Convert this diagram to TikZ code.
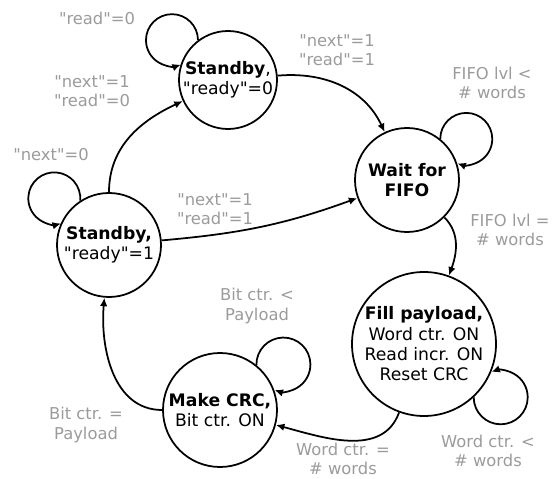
\documentclass[tikz,border=0pt]{standalone}
\usepackage{fontspec}
\setmainfont{DejaVu Sans}[Ligatures=TeXOff]
\usetikzlibrary{arrows.meta}
\definecolor{condgray}{RGB}{155,155,155}

\begin{document}
\begin{tikzpicture}[>={Latex[length=1.7mm,width=1.5mm]},line width=1pt,
  state/.style={circle,draw,align=center,inner sep=0pt,font=\fontsize{9.8}{11.6}\selectfont},
  cond/.style={align=center,text=condgray,font=\fontsize{9.3}{11}\selectfont}]
\useasboundingbox (0,0) rectangle (11.08,9.58);

\node[state,minimum size=1.96cm] (idle) at (4.56,7.98) {\textbf{Standby}, \\ "ready"=0};
\node[state,minimum size=2.08cm] (ready) at (2.18,4.68) {\textbf{Standby,} \\ "ready"=1};
\node[state,minimum size=2.08cm] (wait) at (8.14,5.98) {\textbf{Wait for} \\ \textbf{FIFO}};
\node[state,minimum size=2.88cm] (fill) at (8.48,2.70) {\textbf{Fill payload,} \\ Word ctr. ON \\ Read incr. ON \\ Reset CRC};
\node[state,minimum size=2.28cm] (crc) at (4.40,1.38) {\textbf{Make CRC,} \\ Bit ctr. ON};

% self loops
\draw[->] (idle.127.3) arc[start angle=0,end angle=290,radius=0.52cm];
\draw[->] (ready.123.3) arc[start angle=-5,end angle=285,radius=0.52cm];
\draw[->] (wait.51.7) arc[start angle=180,end angle=-110,radius=0.52cm];
\draw[->] (fill.-47.4) arc[start angle=180,end angle=470,radius=0.54cm];
\draw[->] (crc.51.8) arc[start angle=181,end angle=-109,radius=0.54cm];

% transitions
\draw[->] (ready) to[out=90,in=205] (idle);
\draw[->] (idle) to[out=5,in=115] (wait);
\draw[->] (ready) to[out=5,in=200] (wait);
\draw[->] (wait) to[out=-45,in=70] (fill);
\draw[->] (fill) to[out=250,in=-15] (crc);
\draw[->] (crc) to[out=180,in=265] (ready);

\node[cond] (c1) at (1.94,9.22) {"read"=0};
\node[cond] (c2) at (1.84,7.76) {"next"=1 \\ "read"=0};
\node[cond] (c3) at (1.02,6.48) {"next"=0};
\node[cond] (c4) at (4.30,5.40) {"next"=1 \\ "read"=1};
\node[cond] (c5) at (6.74,8.58) {"next"=1 \\ "read"=1};
\node[cond] (c6) at (9.84,7.92) {FIFO lvl < \\ \# words};
\node[cond] (c7) at (10.20,4.98) {FIFO lvl = \\ \# words};
\node[cond] (c8) at (5.14,3.46) {Bit ctr. < \\ Payload};
\node[cond] (c9) at (1.72,1.08) {Bit ctr. = \\ Payload};
\node[cond] (c10) at (6.86,0.40) {Word ctr. = \\ \# words};
\node[cond] (c11) at (9.76,0.56) {Word ctr. < \\ \# words};
\end{tikzpicture}
\end{document}
